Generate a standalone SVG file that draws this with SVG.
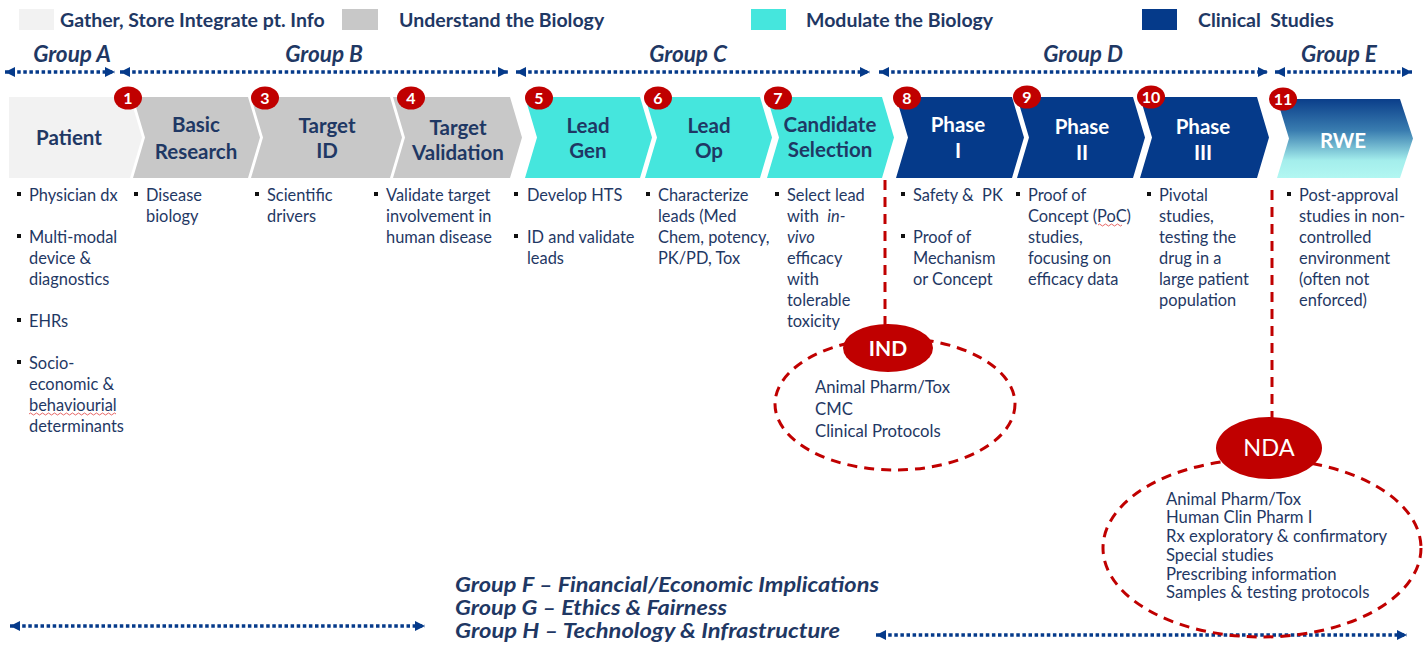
<svg xmlns="http://www.w3.org/2000/svg" width="1424" height="646" viewBox="0 0 1424 646">
<defs>
<marker id="ah" viewBox="0 0 10 10" refX="10" refY="5" markerWidth="10" markerHeight="12" orient="auto-start-reverse" markerUnits="userSpaceOnUse"><path d="M0,0 L10,5 L0,10 z" fill="#053A8A"/></marker>
<linearGradient id="rwe" x1="0" y1="0" x2="0" y2="1">
<stop offset="0" stop-color="#0A3E8A"/>
<stop offset="0.4" stop-color="#3A7DB0"/>
<stop offset="0.78" stop-color="#A4EEEC"/>
<stop offset="1" stop-color="#B2F7F2"/>
</linearGradient>
<style>
text{font-family:Lato,"Liberation Sans",sans-serif;fill:#1F3864}
.leg{font-size:19.5px;font-weight:bold}
.grp{font-size:22.5px;font-weight:bold;font-style:italic}
.fgh{font-size:20px;font-weight:bold;font-style:italic}
.ch{font-size:20.5px;font-weight:bold;text-anchor:middle}
.wt{fill:#FFFFFF}
.bl{font-size:16.4px}
.el{font-size:16.7px}
.badge ellipse{fill:#C00000}
.badge text{fill:#FFFFFF;font-size:16px;font-weight:bold;text-anchor:middle}
.dot{stroke:#053A8A;stroke-width:3.5;stroke-dasharray:3.5 2.6;fill:none;marker-start:url(#ah);marker-end:url(#ah)}
.rd{stroke:#C00000;stroke-width:3;stroke-dasharray:10 7;fill:none}
.gray{fill:#C8C8C8}
.cyan{fill:#45E6DD}
.navy{fill:#053A8A}
.sq{fill:#111111}
</style>
</defs>

<g id="legend">
<rect x="19" y="9" width="35" height="21" fill="#F2F2F2"/>
<text class="leg" x="60" y="27">Gather, Store Integrate pt. Info</text>
<rect x="342" y="9" width="36" height="21" fill="#C8C8C8"/>
<text class="leg" x="399" y="27">Understand the Biology</text>
<rect x="751" y="9" width="35" height="21" fill="#45E6DD"/>
<text class="leg" x="806" y="27">Modulate the Biology</text>
<rect x="1142" y="9" width="35" height="21" fill="#053A8A"/>
<text class="leg" x="1198" y="27">Clinical&#160; Studies</text>
</g>

<g id="group-labels">
<text class="grp" x="72" y="62" text-anchor="middle">Group A</text>
<text class="grp" x="324" y="62" text-anchor="middle">Group B</text>
<text class="grp" x="688" y="62" text-anchor="middle">Group C</text>
<text class="grp" x="1083" y="62" text-anchor="middle">Group D</text>
<text class="grp" x="1339" y="62" text-anchor="middle">Group E</text>
</g>

<g id="connectors">
<line class="dot" x1="5" y1="72" x2="115" y2="72"/>
<line class="dot" x1="120" y1="72" x2="508" y2="72"/>
<line class="dot" x1="516" y1="72" x2="870" y2="72"/>
<line class="dot" x1="879" y1="72" x2="1268" y2="72"/>
<line class="dot" x1="1275" y1="72" x2="1412" y2="72"/>
<line class="dot" x1="10" y1="626" x2="425" y2="626"/>
<line class="dot" x1="876" y1="635" x2="1407" y2="635"/>
<line class="rd" x1="885" y1="180" x2="885" y2="326"/>
<line class="rd" x1="1272" y1="190" x2="1272" y2="418"/>
</g>

<g id="patient">
<polygon points="9,97 130,97 142,137.5 130,178 9,178" fill="#F2F2F2"/>
<text class="ch" x="69" y="145">Patient</text>
</g>
<g id="basic-research">
<polygon class="gray" points="133,97 248,97 260,137.5 248,178 133,178 145,137.5"/>
<text class="ch" x="196" y="132">Basic</text>
<text class="ch" x="196" y="159">Research</text>
</g>
<g id="target-id">
<polygon class="gray" points="251,97 390,97 402,137.5 390,178 251,178 263,137.5"/>
<text class="ch" x="327" y="133">Target</text>
<text class="ch" x="327" y="158">ID</text>
</g>
<g id="target-validation">
<polygon class="gray" points="393,97 510,97 522,137.5 510,178 393,178 405,137.5"/>
<text class="ch" x="458" y="135">Target</text>
<text class="ch" x="458" y="160">Validation</text>
</g>
<g id="lead-gen">
<polygon class="cyan" points="525,97 640,97 652,137.5 640,178 525,178 537,137.5"/>
<text class="ch" x="588" y="133">Lead</text>
<text class="ch" x="588" y="158">Gen</text>
</g>
<g id="lead-op">
<polygon class="cyan" points="645,97 760,97 772,137.5 760,178 645,178 657,137.5"/>
<text class="ch" x="709" y="133">Lead</text>
<text class="ch" x="709" y="158">Op</text>
</g>
<g id="candidate-selection">
<polygon class="cyan" points="767,97 882,97 894,137.5 882,178 767,178 779,137.5"/>
<text class="ch" x="830" y="132">Candidate</text>
<text class="ch" x="830" y="157">Selection</text>
</g>
<g id="phase-1">
<polygon class="navy" points="896,97 1012,97 1024,137.5 1012,178 896,178 908,137.5"/>
<text class="ch wt" x="958" y="132">Phase</text>
<text class="ch wt" x="958" y="158">I</text>
</g>
<g id="phase-2">
<polygon class="navy" points="1017,97 1133,97 1145,137.5 1133,178 1017,178 1029,137.5"/>
<text class="ch wt" x="1082" y="134">Phase</text>
<text class="ch wt" x="1082" y="160">II</text>
</g>
<g id="phase-3">
<polygon class="navy" points="1140,97 1257,97 1269,137.5 1257,178 1140,178 1152,137.5"/>
<text class="ch wt" x="1203" y="134">Phase</text>
<text class="ch wt" x="1203" y="160">III</text>
</g>
<g id="rwe">
<polygon fill="url(#rwe)" points="1277,99 1400,99 1413,138.5 1400,178 1277,178 1289,138.5"/>
<text class="ch wt" x="1343" y="148">RWE</text>
</g>

<g id="badges">
<g class="badge"><ellipse cx="128" cy="98" rx="14" ry="11.5"/><text x="128" y="104">1</text></g>
<g class="badge"><ellipse cx="265" cy="98" rx="14" ry="11.5"/><text x="265" y="104">3</text></g>
<g class="badge"><ellipse cx="411" cy="98" rx="14" ry="11.5"/><text x="411" y="104">4</text></g>
<g class="badge"><ellipse cx="539" cy="98" rx="14" ry="11.5"/><text x="539" y="104">5</text></g>
<g class="badge"><ellipse cx="658" cy="98" rx="14" ry="11.5"/><text x="658" y="104">6</text></g>
<g class="badge"><ellipse cx="778" cy="98" rx="14" ry="11.5"/><text x="778" y="104">7</text></g>
<g class="badge"><ellipse cx="907" cy="98" rx="14" ry="11.5"/><text x="907" y="104">8</text></g>
<g class="badge"><ellipse cx="1027" cy="97" rx="14" ry="11.5"/><text x="1027" y="103">9</text></g>
<g class="badge"><ellipse cx="1151" cy="97" rx="14" ry="11.5"/><text x="1151" y="103">10</text></g>
<g class="badge"><ellipse cx="1283" cy="99" rx="14" ry="11.5"/><text x="1283" y="105">11</text></g>
</g>

<g id="bullets-patient">
<rect class="sq" x="17" y="192" width="4" height="4"/>
<rect class="sq" x="17" y="234" width="4" height="4"/>
<rect class="sq" x="17" y="318" width="4" height="4"/>
<rect class="sq" x="17" y="360" width="4" height="4"/>
<text class="bl" x="29" y="201">Physician dx</text>
<text class="bl" x="29" y="243">Multi-modal</text>
<text class="bl" x="29" y="264">device &amp;</text>
<text class="bl" x="29" y="285">diagnostics</text>
<text class="bl" x="29" y="327">EHRs</text>
<text class="bl" x="29" y="369">Socio-</text>
<text class="bl" x="29" y="390">economic &amp;</text>
<text class="bl" x="29" y="411">behaviourial</text>
<text class="bl" x="29" y="432">determinants</text>
<path d="M29,414 q1.5,-2 3,0 t3,0 t3,0 t3,0 t3,0 t3,0 t3,0 t3,0 t3,0 t3,0 t3,0 t3,0 t3,0 t3,0 t3,0 t3,0 t3,0 t3,0 t3,0 t3,0 t3,0 t3,0 t3,0 t3,0 t3,0 t3,0 t3,0 t3,0 t3,0" stroke="#E04040" stroke-width="0.8" fill="none"/>
</g>
<g id="bullets-basic">
<rect class="sq" x="134" y="192" width="4" height="4"/>
<text class="bl" x="146" y="201">Disease</text>
<text class="bl" x="146" y="222">biology</text>
</g>
<g id="bullets-target-id">
<rect class="sq" x="255" y="192" width="4" height="4"/>
<text class="bl" x="267" y="201">Scientific</text>
<text class="bl" x="267" y="222">drivers</text>
</g>
<g id="bullets-target-validation">
<rect class="sq" x="374" y="192" width="4" height="4"/>
<text class="bl" x="386" y="201">Validate target</text>
<text class="bl" x="386" y="222">involvement in</text>
<text class="bl" x="386" y="243">human disease</text>
</g>
<g id="bullets-lead-gen">
<rect class="sq" x="514" y="192" width="4" height="4"/>
<rect class="sq" x="514" y="234" width="4" height="4"/>
<text class="bl" x="527" y="201">Develop HTS</text>
<text class="bl" x="527" y="243">ID and validate</text>
<text class="bl" x="527" y="264">leads</text>
</g>
<g id="bullets-lead-op">
<rect class="sq" x="646" y="192" width="4" height="4"/>
<text class="bl" x="658" y="201">Characterize</text>
<text class="bl" x="658" y="222">leads (Med</text>
<text class="bl" x="658" y="243">Chem, potency,</text>
<text class="bl" x="658" y="264">PK/PD, Tox</text>
</g>
<g id="bullets-candidate">
<rect class="sq" x="775" y="192" width="4" height="4"/>
<text class="bl" x="787" y="201">Select lead</text>
<text class="bl" x="787" y="222">with&#160; <tspan font-style="italic">in-</tspan></text>
<text class="bl" x="787" y="243" font-style="italic">vivo</text>
<text class="bl" x="787" y="264">efficacy</text>
<text class="bl" x="787" y="285">with</text>
<text class="bl" x="787" y="306">tolerable</text>
<text class="bl" x="787" y="327">toxicity</text>
</g>
<g id="bullets-phase-1">
<rect class="sq" x="901" y="192" width="4" height="4"/>
<rect class="sq" x="901" y="234" width="4" height="4"/>
<text class="bl" x="913" y="201">Safety &amp;&#160; PK</text>
<text class="bl" x="913" y="243">Proof of</text>
<text class="bl" x="913" y="264">Mechanism</text>
<text class="bl" x="913" y="285">or Concept</text>
</g>
<g id="bullets-phase-2">
<rect class="sq" x="1016" y="192" width="4" height="4"/>
<text class="bl" x="1028" y="201">Proof of</text>
<text class="bl" x="1028" y="222">Concept (PoC)</text>
<text class="bl" x="1028" y="243">studies,</text>
<text class="bl" x="1028" y="264">focusing on</text>
<text class="bl" x="1028" y="285">efficacy data</text>
<path d="M1098,225 q1.5,-2 3,0 t3,0 t3,0 t3,0 t3,0 t3,0 t3,0 t3,0" stroke="#E04040" stroke-width="0.8" fill="none"/>
</g>
<g id="bullets-phase-3">
<rect class="sq" x="1147" y="192" width="4" height="4"/>
<text class="bl" x="1159" y="201">Pivotal</text>
<text class="bl" x="1159" y="222">studies,</text>
<text class="bl" x="1159" y="243">testing the</text>
<text class="bl" x="1159" y="264">drug in a</text>
<text class="bl" x="1159" y="285">large patient</text>
<text class="bl" x="1159" y="306">population</text>
</g>
<g id="bullets-rwe">
<rect class="sq" x="1287" y="192" width="4" height="4"/>
<text class="bl" x="1299" y="201">Post-approval</text>
<text class="bl" x="1299" y="222">studies in non-</text>
<text class="bl" x="1299" y="243">controlled</text>
<text class="bl" x="1299" y="264">environment</text>
<text class="bl" x="1299" y="285">(often not</text>
<text class="bl" x="1299" y="306">enforced)</text>
</g>

<g id="ind">
<ellipse class="rd" cx="895" cy="404" rx="120" ry="66" stroke-width="2.5"/>
<ellipse cx="888" cy="348" rx="45" ry="24" fill="#C00000"/>
<text x="888" y="356" class="wt" font-size="21" font-weight="bold" text-anchor="middle">IND</text>
<text class="el" x="815" y="393">Animal Pharm/Tox</text>
<text class="el" x="815" y="415">CMC</text>
<text class="el" x="815" y="437">Clinical Protocols</text>
</g>

<g id="nda">
<ellipse class="rd" cx="1262" cy="548" rx="159" ry="89" stroke-width="2.5"/>
<ellipse cx="1269" cy="448" rx="53" ry="31" fill="#C00000"/>
<text x="1269" y="456" class="wt" font-size="23.5" text-anchor="middle">NDA</text>
<text class="el" x="1166" y="505">Animal Pharm/Tox</text>
<text class="el" x="1166" y="523">Human Clin Pharm I</text>
<text class="el" x="1166" y="542">Rx exploratory &amp; confirmatory</text>
<text class="el" x="1166" y="561">Special studies</text>
<text class="el" x="1166" y="580">Prescribing information</text>
<text class="el" x="1166" y="598">Samples &amp; testing protocols</text>
</g>

<g id="groups-fgh">
<text class="fgh" x="455" y="592" textLength="424" lengthAdjust="spacingAndGlyphs">Group F – Financial/Economic Implications</text>
<text class="fgh" x="455" y="615" textLength="272" lengthAdjust="spacingAndGlyphs">Group G – Ethics &amp; Fairness</text>
<text class="fgh" x="455" y="638" textLength="385" lengthAdjust="spacingAndGlyphs">Group H – Technology &amp; Infrastructure</text>
</g>
</svg>
